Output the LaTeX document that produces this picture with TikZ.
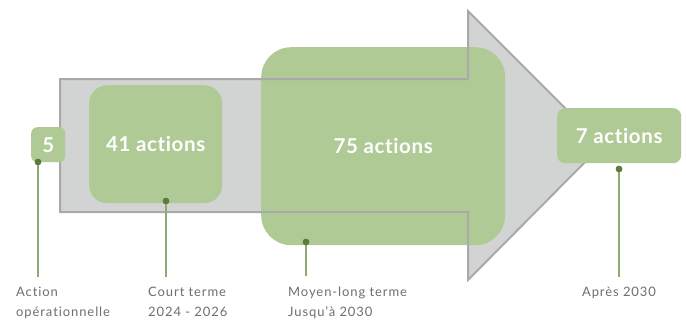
\documentclass[tikz,border=0pt]{standalone}
\usepackage{fontspec}
\setmainfont[Ligatures=NoCommon]{Lato}
\newfontfamily\labelfont[LetterSpace=7,Ligatures=NoCommon]{Lato}
\newfontfamily\boxfont[LetterSpace=3,Ligatures=NoCommon]{Lato Bold}
\definecolor{sage}{HTML}{AFCA95}
\definecolor{arrowfill}{HTML}{D2D3D3}
\definecolor{arrowline}{HTML}{A8A9A9}
\definecolor{dotgreen}{HTML}{5E7B3C}
\definecolor{stemgreen}{HTML}{8DAB6E}
\definecolor{labelgray}{HTML}{6E6E6E}
\begin{document}
\begin{tikzpicture}[x=1pt,y=-1pt,
  box/.style={fill=sage, rounded corners=#1, inner sep=0pt, text=white,
    font=\boxfont\fontsize{20.5}{24}\selectfont, anchor=north west},
  dotmark/.style={circle, fill=dotgreen, inner sep=0pt, minimum size=6.5pt},
  stem/.style={draw=stemgreen, line width=1.3pt},
  lbl/.style={text=labelgray, inner sep=0pt, font=\labelfont\fontsize{13}{20}\selectfont},
  arrowbody/.style={fill=arrowfill},
  arrowedge/.style={draw=arrowline, line width=2pt, line join=miter}]
\useasboundingbox (0,0) rectangle (686,325);
% arrow fill
\path[arrowbody] (60,79) -- (468,79) -- (468,11) -- (602,145) -- (468,280) -- (468,212) -- (60,212) -- cycle;
% boxes under the outline
\node[box=18, minimum width=133pt, minimum height=118pt] (b41) at (89,85) {41 actions};
\node[box=30, minimum width=244pt, minimum height=198pt] (b75) at (261,47) {75 actions};
% arrow outline
\draw[arrowedge] (60,79) -- (468,79) -- (468,11) -- (602,145) -- (468,280) -- (468,212) -- (60,212) -- cycle;
% boxes over the outline
\node[box=6, minimum width=34pt, minimum height=35pt] (b5) at (31,127) {5};
\node[box=8, minimum width=124pt, minimum height=55pt] (b7) at (557,108) {7 actions};
% dots
\node[dotmark] (d5) at (38,162) {};
\node[dotmark] (d41) at (166,201) {};
\node[dotmark] (d75) at (306,242) {};
\node[dotmark] (d7) at (619,169) {};
% stem ends
\coordinate (e5) at (38,277);
\coordinate (e41) at (166,277);
\coordinate (e75) at (306,276);
\coordinate (e7) at (619,277);
% labels
\node[lbl, anchor=north west, align=left] (l5) at (16,287) {Action\\opérationnelle};
\node[lbl, anchor=north west, align=left] (l41) at (148,287) {Court terme\\2024 - 2026};
\node[lbl, anchor=north west, align=left] (l75) at (288,287) {Moyen-long terme\\Jusqu’à 2030};
\node[lbl, anchor=north] (l7) at (619,287) {Après 2030};
% stems
\draw[stem] (d5.center) -- (e5);
\draw[stem] (d41.center) -- (e41);
\draw[stem] (d75.center) -- (e75);
\draw[stem] (d7.center) -- (e7);
\node[dotmark] at (d5) {};
\node[dotmark] at (d41) {};
\node[dotmark] at (d75) {};
\node[dotmark] at (d7) {};
\end{tikzpicture}
\end{document}
